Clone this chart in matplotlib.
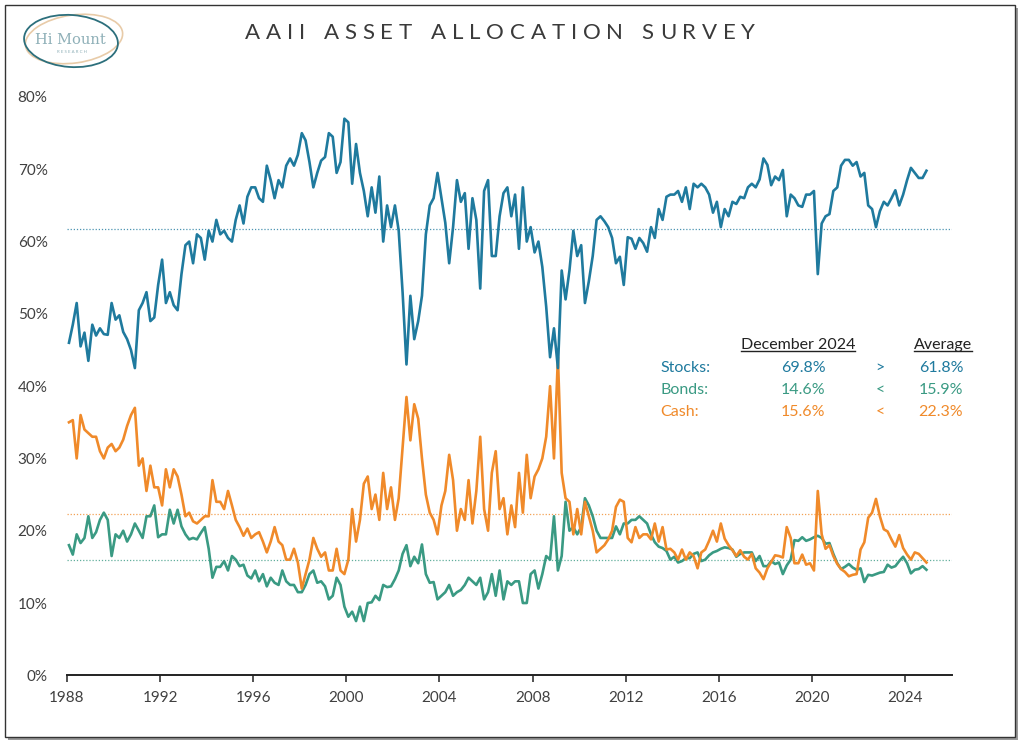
import matplotlib
matplotlib.use("Agg")
import matplotlib.pyplot as plt
import matplotlib.dates as mdates
from matplotlib.patches import Ellipse, Rectangle
import numpy as np
import pandas as pd

plt.rcParams["font.family"] = ["Lato", "DejaVu Sans"]

# ---- AAII asset allocation (percent), every second month, Feb 1988 - Dec 2024 ----
dates = pd.date_range("1988-02-01", "2024-12-01", freq="2MS")

stocks = [
    46.0, 48.5, 51.5, 45.5, 47.4, 43.5,  # 1988
    48.5, 47.0, 48.0, 47.2, 47.1, 51.5,  # 1989
    49.2, 49.8, 47.5, 46.5, 45.0, 42.5,  # 1990
    50.5, 51.5, 53.0, 49.0, 49.5, 54.0,  # 1991
    57.5, 51.5, 53.0, 51.2, 50.5, 55.5,  # 1992
    59.5, 60.0, 57.0, 61.0, 60.5, 57.5,  # 1993
    61.5, 60.0, 63.0, 61.0, 61.5, 60.5,  # 1994
    60.0, 63.0, 65.0, 62.5, 66.2, 67.5,  # 1995
    67.5, 66.0, 65.5, 70.5, 68.5, 66.0,  # 1996
    68.5, 67.5, 70.5, 71.5, 70.5, 72.0,  # 1997
    75.0, 74.0, 71.0, 67.5, 69.5, 71.2,  # 1998
    71.7, 75.0, 74.5, 69.5, 71.0, 77.0,  # 1999
    76.5, 68.0, 73.5, 69.5, 67.0, 63.5,  # 2000
    67.5, 64.0, 69.0, 60.0, 65.0, 62.0,  # 2001
    65.0, 61.5, 53.0, 43.0, 52.5, 46.5,  # 2002
    49.0, 52.5, 61.0, 65.0, 66.0, 69.5,  # 2003
    66.0, 62.6, 57.0, 62.0, 68.5, 65.5,  # 2004
    66.7, 59.0, 66.0, 63.0, 53.5, 67.0,  # 2005
    68.5, 58.0, 58.0, 63.5, 66.7, 67.5,  # 2006
    63.5, 66.5, 59.0, 67.5, 60.0, 62.0,  # 2007
    58.5, 60.0, 56.5, 51.0, 44.0, 48.0,  # 2008
    42.5, 56.0, 52.0, 56.0, 61.5, 58.0,  # 2009
    59.5, 51.5, 54.5, 58.0, 63.0, 63.5,  # 2010
    62.8,
    62.0, 60.5, 57.0, 57.9, 54.0, 60.6,  # 2011
    60.4, 59.0, 60.5, 59.8, 58.6, 62.0,  # 2012
    60.5, 64.5, 63.0, 66.2, 66.5, 66.5,  # 2013
    67.0, 65.5, 67.5, 64.5, 68.0, 67.5,  # 2014
    68.0, 67.5, 66.5, 64.0, 65.5, 62.0,  # 2015
    64.5, 63.5, 65.5, 65.2, 66.2, 66.0,  # 2016
    67.5, 68.0, 67.5, 68.6, 71.5, 70.6,  # 2017
    67.8, 69.0, 68.5, 69.9, 63.5, 66.5,  # 2018
    66.0, 65.0, 64.8, 66.5, 66.5, 67.0,  # 2019
    55.5, 62.5, 63.5, 63.8, 67.0, 67.5,  # 2020
    70.5, 71.3, 71.3, 70.5, 71.0, 69.0,  # 2021
    69.5, 65.0, 64.5, 62.0, 64.2, 65.5,  # 2022
    65.0, 66.0, 67.1, 65.0, 66.5, 68.5,  # 2023
    70.2, 69.5, 68.8, 68.8, 69.8,        # 2024
]

bonds = [
    18.0, 16.7, 19.5, 18.3, 19.0, 22.0,  # 1988
    19.0, 19.8, 21.5, 22.5, 21.5, 16.5,  # 1989
    19.5, 19.0, 20.0, 18.5, 19.5, 21.0,  # 1990
    20.0, 19.0, 22.0, 22.0, 23.5, 19.1,  # 1991
    19.5, 19.5, 22.9, 21.0, 22.9, 20.6,  # 1992
    19.5, 18.8, 19.0, 18.8, 19.7, 20.5,  # 1993
    17.5, 13.5, 15.0, 15.0, 15.8, 14.5,  # 1994
    16.5, 16.0, 15.1, 15.3, 13.8, 13.4,  # 1995
    14.5, 13.0, 14.0, 12.3, 13.5, 12.8,  # 1996
    12.5, 14.5, 13.0, 12.5, 12.5, 11.5,  # 1997
    11.5, 12.5, 14.0, 14.5, 12.8, 13.0,  # 1998
    12.3, 10.5, 11.0, 13.5, 12.5, 9.5,   # 1999
    8.1, 8.8, 7.5, 9.5, 7.5, 10.0,       # 2000
    10.1, 11.0, 10.4, 12.5, 12.2, 12.3,  # 2001
    13.3, 14.5, 16.8, 18.0, 15.1, 16.4,  # 2002
    15.5, 18.1, 14.0, 12.8, 12.9, 10.5,  # 2003
    11.0, 11.5, 12.5, 11.0, 11.5, 11.8,  # 2004
    12.5, 13.5, 13.0, 12.5, 13.5, 10.5,  # 2005
    11.5, 14.0, 11.0, 14.5, 10.5, 13.0,  # 2006
    12.5, 13.0, 13.0, 10.0, 10.0, 14.0,  # 2007
    14.5, 12.0, 14.0, 16.5, 16.0, 22.0,  # 2008
    14.5, 16.5, 24.0, 20.0, 20.5, 19.5,  # 2009
    20.5, 24.5, 23.5, 22.0, 20.0, 19.0,  # 2010
    19.0,
    19.0, 19.0, 20.6, 19.5, 21.0, 21.0,  # 2011
    21.5, 21.5, 22.0, 21.5, 21.0, 19.5,  # 2012
    18.4, 17.8, 17.6, 17.2, 16.0, 16.4,  # 2013
    15.6, 15.8, 16.2, 16.2, 16.8, 17.0,  # 2014
    15.8, 16.0, 16.6, 17.0, 17.2, 17.5,  # 2015
    17.7, 17.6, 17.4, 16.4, 16.8, 17.0,  # 2016
    17.0, 17.0, 15.8, 16.5, 15.1, 15.1,  # 2017
    15.8, 15.4, 15.6, 14.0, 15.2, 16.0,  # 2018
    18.7, 18.6, 19.1, 18.6, 18.8, 19.1,  # 2019
    19.3, 19.0, 18.2, 18.3, 16.8, 15.5,  # 2020
    14.7, 15.0, 15.4, 14.9, 14.6, 14.8,  # 2021
    12.9, 13.9, 13.8, 14.0, 14.2, 14.3,  # 2022
    15.3, 14.9, 15.1, 15.8, 16.4, 15.5,  # 2023
    14.1, 14.6, 14.7, 15.1, 14.6,        # 2024
]

cash = [
    35.0, 35.3, 30.0, 36.0, 34.0, 33.5,  # 1988
    33.0, 33.0, 31.0, 30.0, 31.5, 32.0,  # 1989
    31.0, 31.5, 32.6, 34.5, 36.0, 37.0,  # 1990
    29.0, 30.0, 25.5, 29.0, 26.0, 26.0,  # 1991
    23.5, 28.5, 26.0, 28.5, 27.5, 25.0,  # 1992
    22.0, 22.5, 21.3, 21.0, 21.5, 22.0,  # 1993
    22.0, 27.0, 24.0, 24.0, 23.0, 25.5,  # 1994
    23.5, 21.5, 20.5, 19.3, 20.3, 19.0,  # 1995
    19.5, 19.8, 18.5, 17.0, 18.5, 20.5,  # 1996
    18.5, 18.0, 16.0, 16.0, 17.5, 15.6,  # 1997
    12.0, 14.0, 16.0, 19.0, 17.5, 16.4,  # 1998
    17.0, 14.5, 14.5, 17.5, 14.5, 14.0,  # 1999
    16.0, 23.0, 18.5, 21.5, 26.5, 27.5,  # 2000
    23.0, 25.0, 21.5, 28.0, 23.0, 26.0,  # 2001
    21.5, 24.5, 31.5, 38.5, 32.5, 37.5,  # 2002
    35.5, 30.0, 25.0, 22.5, 21.5, 19.5,  # 2003
    23.5, 25.5, 30.5, 27.0, 20.0, 23.0,  # 2004
    21.5, 27.0, 21.0, 25.5, 33.0, 23.0,  # 2005
    20.0, 28.0, 31.0, 23.0, 24.5, 19.5,  # 2006
    23.5, 20.5, 28.0, 22.5, 30.5, 24.5,  # 2007
    27.5, 28.5, 30.0, 33.0, 40.0, 30.0,  # 2008
    44.0, 28.0, 24.5, 24.0, 19.5, 23.0,  # 2009
    19.5, 24.0, 22.0, 20.0, 17.0, 17.5,  # 2010
    18.0,
    18.8, 20.0, 23.3, 24.3, 24.0, 19.0,  # 2011
    18.4, 20.5, 19.0, 19.5, 19.5, 18.8,  # 2012
    21.0, 18.5, 20.5, 17.4, 17.5, 17.0,  # 2013
    16.0, 17.4, 16.0, 17.0, 16.5, 14.8,  # 2014
    17.0, 17.4, 18.6, 20.0, 18.5, 21.0,  # 2015
    18.9, 18.0, 17.3, 16.5, 17.3, 16.4,  # 2016
    16.0, 16.8, 14.8, 14.2, 13.3, 14.8,  # 2017
    15.7, 16.6, 16.5, 16.3, 20.5, 19.0,  # 2018
    15.5, 15.5, 16.7, 15.3, 15.5, 14.5,  # 2019
    25.5, 19.5, 17.5, 18.0, 16.5, 15.4,  # 2020
    14.7, 14.3, 13.7, 13.9, 14.0, 17.4,  # 2021
    18.4, 21.8, 22.5, 24.4, 22.0, 20.2,  # 2022
    19.9, 18.8, 17.8, 19.4, 17.6, 16.7,  # 2023
    16.0, 17.0, 16.8, 16.2, 15.6,        # 2024
]

averages = {"Stocks": 61.8, "Bonds": 15.9, "Cash": 22.3}
latest = {"Stocks": 69.8, "Bonds": 14.6, "Cash": 15.6}
signs = {"Stocks": ">", "Bonds": "<", "Cash": "<"}
TITLE = "AAII ASSET ALLOCATION SURVEY"

assert len(stocks) == len(bonds) == len(cash) == len(dates)

C_STOCK = "#1f7a9e"
C_BOND = "#3a9a83"
C_CASH = "#f08a2a"
colors = {"Stocks": C_STOCK, "Bonds": C_BOND, "Cash": C_CASH}

W, H = 1024, 747
fig = plt.figure(figsize=(W / 100, H / 100), dpi=100)
rend = fig.canvas.get_renderer()

# background layer in pixel coordinates: frame, logo, title, table
bg = fig.add_axes([0, 0, 1, 1], zorder=0)
bg.set_xlim(0, W)
bg.set_ylim(H, 0)
bg.axis("off")

bg.add_patch(Rectangle((8, 8), 1010, 732, facecolor="#9a9a9a", edgecolor="none"))
bg.add_patch(Rectangle((5, 5), 1010, 732, facecolor="white", edgecolor="#333333", lw=1.0))

# logo
bg.add_patch(Ellipse((74, 39), 98, 48, angle=-8, fill=False, edgecolor="#e8cba8", lw=1.2))
bg.add_patch(Ellipse((71, 41), 94, 52, angle=4, fill=False, edgecolor="#2c6f7c", lw=1.3))
bg.text(70, 40, "Hi Mount", family="DejaVu Serif", fontsize=10.5, color="#8fb0b8",
        ha="center", va="center")
bg.text(72, 52, "R E S E A R C H", fontsize=3.2, color="#8fb0b8", ha="center", va="center")

# letter-spaced title, spread over x = 245..755
t_left, t_right, t_y = 245, 755, 33
glyphs = []
for ch in TITLE:
    if ch == " ":
        glyphs.append((None, 7.0))
        continue
    t = bg.text(0, t_y, ch, fontsize=16, color="#3a3a3a", ha="left", va="center")
    glyphs.append((t, t.get_window_extent(rend).width))
n_gaps = len(TITLE) - 1
track = (t_right - t_left - sum(w for _, w in glyphs)) / n_gaps
xpos = t_left
for t, w in glyphs:
    if t is not None:
        t.set_x(xpos)
    xpos += w + track

# main chart
ax = fig.add_axes([67 / W, 1 - 675.3 / H, (951.7 - 67) / W, (675.3 - 97) / H], zorder=1)
ax.patch.set_alpha(0)

ax.plot(dates, bonds, color=C_BOND, lw=1.9, zorder=3)
ax.plot(dates, cash, color=C_CASH, lw=1.9, zorder=4)
ax.plot(dates, stocks, color=C_STOCK, lw=1.9, zorder=5)

for name, val in averages.items():
    ax.axhline(val, color=colors[name], lw=0.9, ls=(0, (1, 1.5)), alpha=0.8, zorder=2)

ax.set_xlim(pd.Timestamp("1988-01-01"), pd.Timestamp("2026-01-01"))
ax.set_ylim(0, 80)
ax.set_yticks(range(0, 81, 10))
ax.set_yticklabels([f"{v}%" for v in range(0, 81, 10)])
ax.xaxis.set_major_locator(mdates.YearLocator(4))
ax.xaxis.set_major_formatter(mdates.DateFormatter("%Y"))

for s in ("top", "right", "left"):
    ax.spines[s].set_visible(False)
ax.spines["bottom"].set_color("#222222")
ax.spines["bottom"].set_linewidth(1.4)
ax.tick_params(axis="y", length=0, pad=14, labelsize=11, labelcolor="#404040")
ax.tick_params(axis="x", length=5, width=1.1, color="#222222", pad=6,
               labelsize=11, labelcolor="#404040")

# summary table
hdr_y = 349
h1 = bg.text(798, hdr_y, "December 2024", fontsize=11.5, color="#222222",
             ha="center", va="baseline")
h2 = bg.text(943, hdr_y, "Average", fontsize=11.5, color="#222222",
             ha="center", va="baseline")
row_y = {"Stocks": 368, "Bonds": 390, "Cash": 412}
for name, y in row_y.items():
    c = colors[name]
    bg.text(660, y, f"{name}:", fontsize=11.5, color=c, ha="left", va="center")
    bg.text(803, y, f"{latest[name]:.1f}%", fontsize=11.5, color=c, ha="center", va="center")
    bg.text(880, y, signs[name], fontsize=11.5, color=c, ha="center", va="center")
    bg.text(941, y, f"{averages[name]:.1f}%", fontsize=11.5, color=c, ha="center", va="center")

fig.canvas.draw()
inv = bg.transData.inverted()
for t in (h1, h2):
    bb = t.get_window_extent(rend)
    (x0, _), (x1, _) = inv.transform([[bb.x0, bb.y0], [bb.x1, bb.y0]])
    bg.plot([x0, x1], [hdr_y + 2, hdr_y + 2], color="#222222", lw=1.0)

fig.savefig("out.png", dpi=100)
